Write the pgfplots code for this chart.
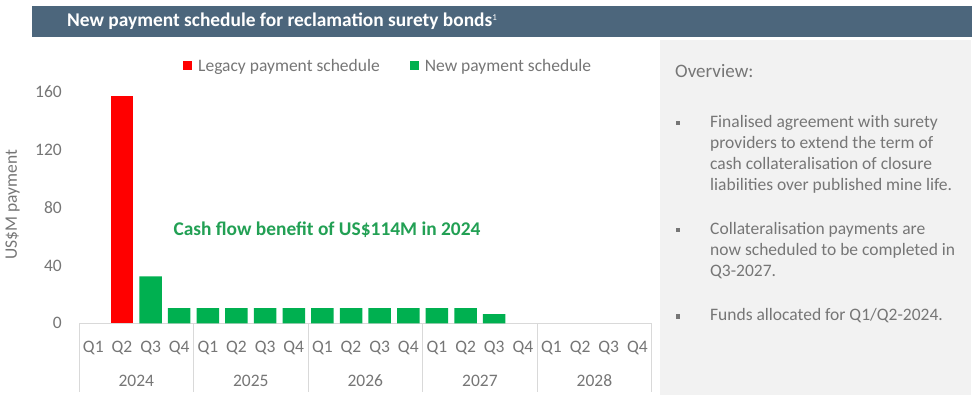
\documentclass[border=0pt]{standalone}
\usepackage{pgfplots}
\pgfplotsset{compat=1.18}
\usepackage{fontspec}
\setmainfont{Carlito}
\definecolor{titlebar}{RGB}{76,102,124}
\definecolor{panel}{RGB}{242,242,242}
\definecolor{legred}{RGB}{255,0,0}
\definecolor{newgreen}{RGB}{0,176,80}
\definecolor{annot}{RGB}{34,160,84}
\definecolor{txt}{RGB}{118,118,118}
\definecolor{sepc}{RGB}{217,217,217}
\newcommand{\fs}[1]{\fontsize{#1}{1.2\dimexpr #1pt\relax}\selectfont}
\begin{document}
\begin{tikzpicture}[x=1pt,y=1pt]
\path[use as bounding box, fill=white] (0,0) rectangle (980,399);
\fill[titlebar] (32,362.3) rectangle (972,393);
\node[anchor=base west, inner sep=0pt, text=white, font=\fs{19.4}\bfseries] at (67,372)
  {New payment schedule for reclamation surety bonds\raisebox{6pt}{\fs{9}\mdseries 1}};
\fill[panel] (660,4) rectangle (971,359);
\node[anchor=base west, inner sep=0pt, text=txt, font=\fs{19}] at (675,321.3) {Overview:};
% bullets
\foreach \b in {123,230,316.5}{\fill[txt] (676,399-\b-2.2) rectangle (680.4,399-\b+2.2);}
\foreach \t/\yy in {Finalised agreement with surety/127.5,
  providers to extend the term of/148.5,
  cash collateralisation of closure/169.5,
  liabilities over published mine life./190.5,
  Collateralisation payments are/234.5,
  now scheduled to be completed in/255.5,
  Q3-2027./276.5}{
  \node[anchor=base west, inner sep=0pt, text=txt, font=\fs{17.5}] at (710,399-\yy) {\t};
}
\node[anchor=base west, inner sep=0pt, text=txt, font=\fs{17.5}] at (710,78) {Funds allocated for Q1/Q2-2024.};
\begin{axis}[
  at={(79pt,75.7pt)}, anchor=south west,
  scale only axis, width=572.7pt, height=231.6pt,
  xmin=-0.5, xmax=19.5, ymin=0, ymax=160,
  axis lines*=left,
  y axis line style={draw=none},
  x axis line style={draw=sepc, line width=1pt},
  ytick={0,40,80,120,160},
  xtick={0,...,19},
  xticklabels={Q1,Q2,Q3,Q4,Q1,Q2,Q3,Q4,Q1,Q2,Q3,Q4,Q1,Q2,Q3,Q4,Q1,Q2,Q3,Q4},
  major tick length=0pt,
  /pgf/number format/assume math mode=true,
  tick label style={font=\fs{17.5}, text=txt},
  yticklabel style={anchor=east, inner sep=0pt, xshift=-17pt},
  xticklabel style={anchor=base, inner sep=0pt, yshift=-28.7pt},
  ylabel={US\$M payment},
  ylabel style={at={(axis description cs:-0.1161,0.511)}, anchor=center, font=\fs{17.5}, text=txt},
  ybar, bar width=22.5pt,
  clip=false,
  legend columns=2,
  legend image code/.code={\fill[#1] (0pt,-4.5pt) rectangle (9pt,4.5pt);},
  legend style={at={(0.1816,1.111)}, anchor=west, draw=none, fill=none,
    inner sep=0pt, font=\fs{17.5}, text=txt,
    /tikz/every odd column/.append style={column sep=4pt},
    /tikz/every even column/.append style={column sep=28pt}},
  legend cell align=left,
]
\addplot[fill=legred, draw=none, bar shift=0pt] coordinates {(1,157)};
\addlegendentry{Legacy payment schedule}
\addplot[fill=newgreen, draw=none, bar shift=0pt] coordinates {
  (2,32.5) (3,10.5) (4,10.5) (5,10.5) (6,10.5) (7,10.5) (8,10.5) (9,10.5)
  (10,10.5) (11,10.5) (12,10.5) (13,10.5) (14,6.4)};
\addlegendentry{New payment schedule}
\pgfplotsinvokeforeach{-0.5,3.5,7.5,11.5,15.5,19.5}{
  \draw[sepc, line width=1pt] (axis cs:#1,0) -- ++(0pt,-68.7pt);
}
\path (axis cs:1.5,0) ++(0pt,-62.7pt) node[anchor=base, inner sep=0pt, font=\fs{17.5}, text=txt] {2024};
\path (axis cs:5.5,0) ++(0pt,-62.7pt) node[anchor=base, inner sep=0pt, font=\fs{17.5}, text=txt] {2025};
\path (axis cs:9.5,0) ++(0pt,-62.7pt) node[anchor=base, inner sep=0pt, font=\fs{17.5}, text=txt] {2026};
\path (axis cs:13.5,0) ++(0pt,-62.7pt) node[anchor=base, inner sep=0pt, font=\fs{17.5}, text=txt] {2027};
\path (axis cs:17.5,0) ++(0pt,-62.7pt) node[anchor=base, inner sep=0pt, font=\fs{17.5}, text=txt] {2028};
\node[anchor=base, inner sep=0pt, font=\fs{19.4}\bfseries, text=annot] at (axis cs:8.16,60.5)
  {Cash flow benefit of US\$114M in 2024};
\end{axis}
\end{tikzpicture}
\end{document}
